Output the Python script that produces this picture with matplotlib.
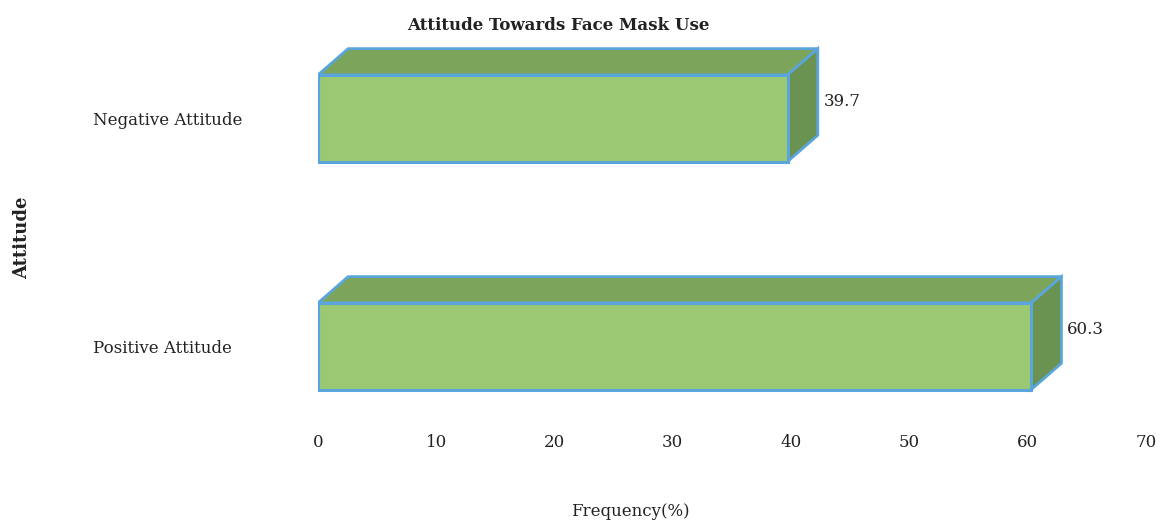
import matplotlib.pyplot as plt
from matplotlib.patches import Polygon, Rectangle

# Attitude categories and their share (%)
categories = ["Positive Attitude", "Negative Attitude"]
frequency = [60.3, 39.7]
x_ticks = [0, 10, 20, 30, 40, 50, 60, 70]

plt.rcParams['font.family'] = ['DejaVu Serif']

front_col = "#9bc872"
top_col = "#7ca55b"
side_col = "#6a9250"
edge_col = "#5aa6dc"
text_col = "#222222"

fig = plt.figure(figsize=(11.61, 5.22), dpi=100)
ax = fig.add_axes([0.2739, 0.1839, 0.7132, 0.7644])

bar_h = 0.38
depth_x = 2.55   # depth in data units along x
depth_y = 0.115  # depth in data units along y

for i, (cat, val) in enumerate(zip(categories, frequency)):
    y0 = i - bar_h / 2
    y1 = i + bar_h / 2
    # top face
    ax.add_patch(Polygon([(0, y1), (val, y1), (val + depth_x, y1 + depth_y),
                          (depth_x, y1 + depth_y)], closed=True,
                         facecolor=top_col, edgecolor=edge_col, lw=2, zorder=2))
    # side face
    ax.add_patch(Polygon([(val, y0), (val, y1), (val + depth_x, y1 + depth_y),
                          (val + depth_x, y0 + depth_y)], closed=True,
                         facecolor=side_col, edgecolor=edge_col, lw=2, zorder=2))
    # front face
    ax.add_patch(Rectangle((0, y0), val, bar_h, facecolor=front_col,
                           edgecolor=edge_col, lw=2.2, zorder=3))
    ax.text(val + depth_x + 0.5, i + 0.075, f"{val}", ha="left", va="center",
            fontsize=12, color=text_col)

ax.set_xlim(0, 70)
ax.set_ylim(-0.35, 1.4)
ax.set_xticks(x_ticks)
ax.set_xticklabels([str(t) for t in x_ticks], fontsize=12, color=text_col)
ax.set_yticks(range(len(categories)))
ax.set_yticklabels(categories, fontsize=12, color=text_col)
for lbl in ax.get_yticklabels():
    lbl.set_ha("left")
ax.tick_params(axis="y", length=0, pad=162)
ax.tick_params(axis="x", length=0, pad=6)
for s in ax.spines.values():
    s.set_visible(False)

fig.text(558 / 1161, 1 - 26 / 522, "Attitude Towards Face Mask Use",
         ha="center", va="center", fontsize=12, fontweight="bold", color=text_col)
fig.text(630 / 1161, 1 - 511 / 522, "Frequency(%)", ha="center", va="center",
         fontsize=12, color=text_col)
fig.text(22 / 1161, 1 - 238 / 522, "Attitude", ha="center", va="center",
         rotation=90, fontsize=13, fontweight="bold", color=text_col)

fig.savefig("out.png", dpi=100)
